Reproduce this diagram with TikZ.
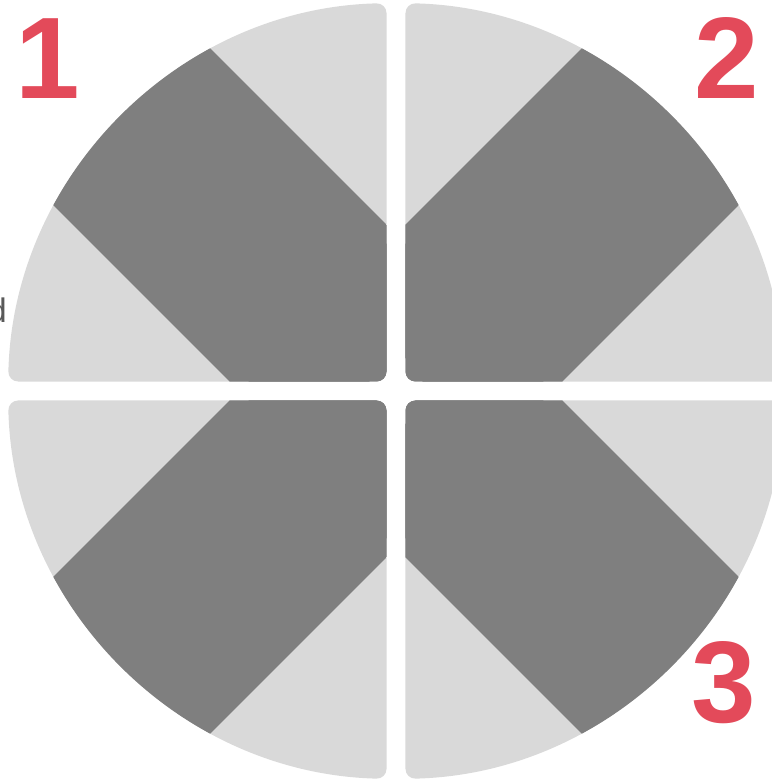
\documentclass[tikz,border=0pt]{standalone}
\usepackage{fontspec}
\setmainfont{Liberation Sans}
\definecolor{bandgray}{RGB}{127,127,127}
\definecolor{palegray}{RGB}{217,217,217}
\definecolor{numred}{RGB}{227,74,90}
\definecolor{textgray}{RGB}{89,89,89}
\begin{document}
\begin{tikzpicture}[x=1pt, y=1pt,
    numlabel/.style={anchor=base, inner sep=0pt, text=numred, font=\fontsize{116}{116}\selectfont\bfseries},
    quarter/.style={rounded corners=10pt}]
    \useasboundingbox (-396,-390) rectangle (375,391);

    % four quarters of the disc, each with the crossing bands
    \foreach \a in {0,90,180,270} {
        \begin{scope}[rotate=\a]
            \clip[quarter] (9.5,9.5) -- (1.4:388) arc[start angle=1.4, end angle=88.6, radius=388] -- cycle;
            \fill[palegray] (0,0) circle (392);
            \fill[bandgray, rotate=45] (-400,-111) rectangle (400,111);
            \fill[bandgray, rotate=-45] (-400,-111) rectangle (400,111);
        \end{scope}
    }

    \node[numlabel] (one) at (-348,292) {1};
    \node[numlabel] (two) at (331,292) {2};
    \node[numlabel] (three) at (328,-331) {3};

    \node[anchor=base east, inner sep=0pt, text=textgray, font=\fontsize{34}{34}\selectfont] (cut) at (-389,68) {d};
\end{tikzpicture}
\end{document}
